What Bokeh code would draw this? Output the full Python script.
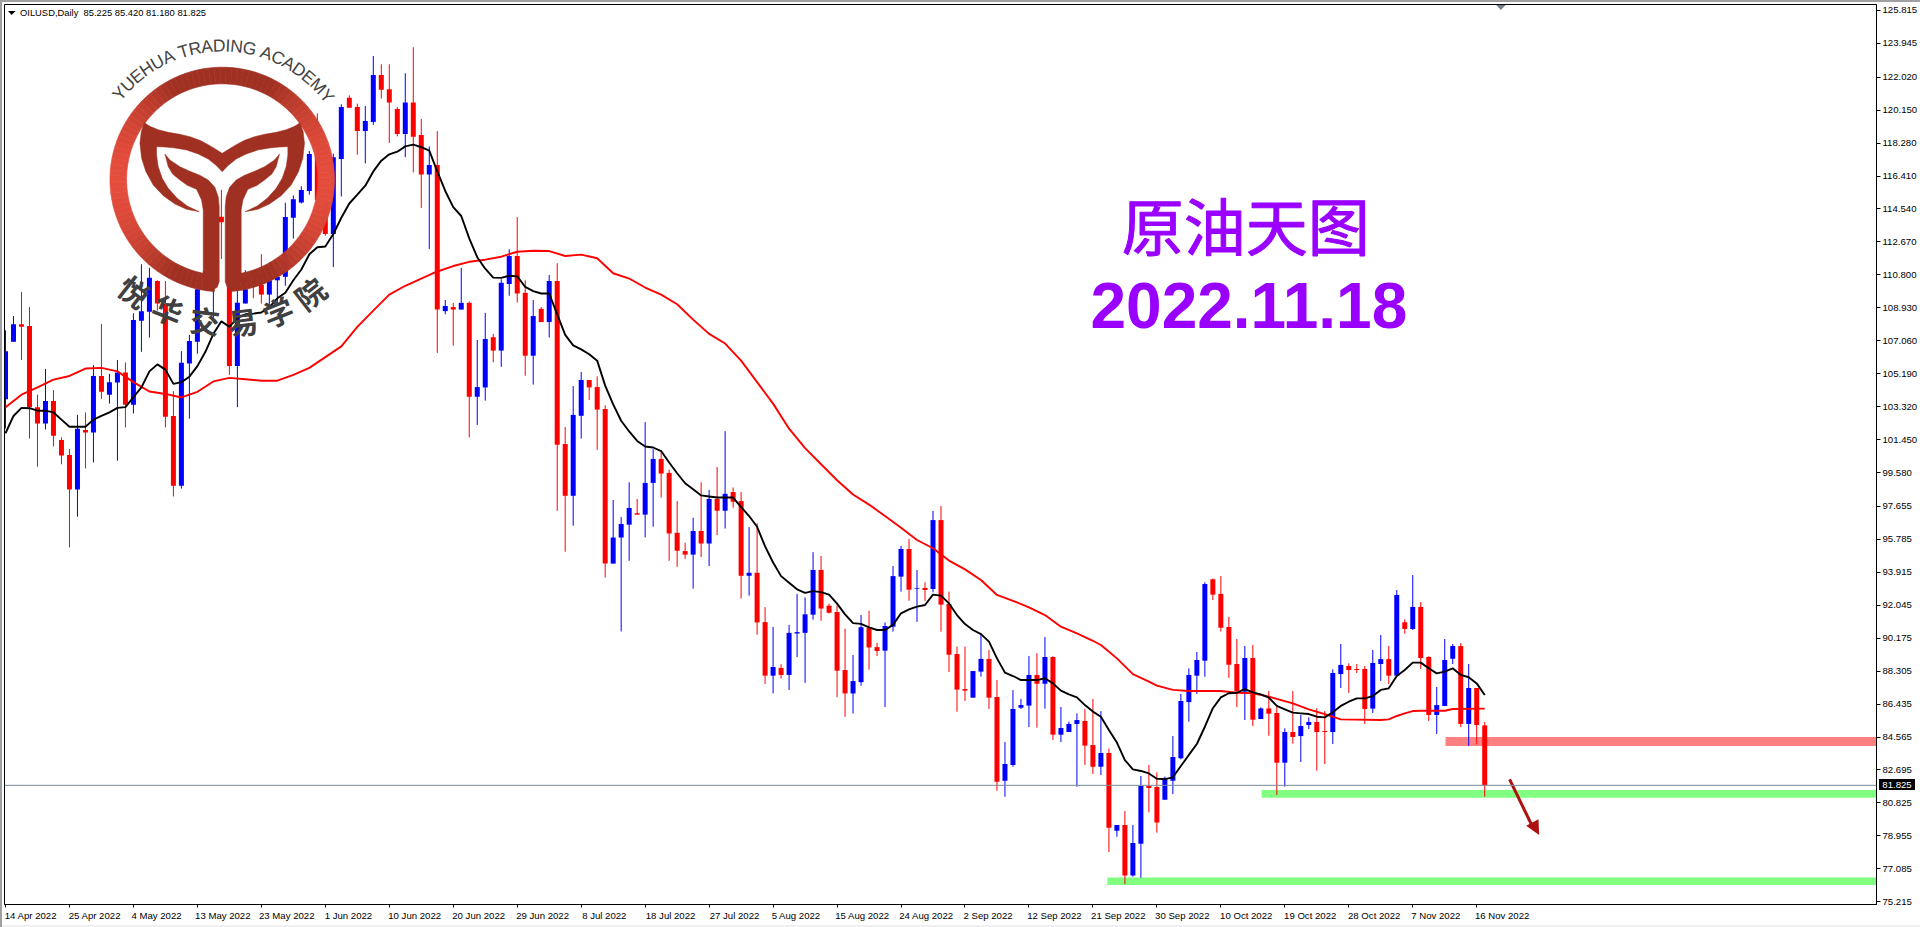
import math
from bokeh.plotting import figure
from bokeh.embed import file_html
from bokeh.resources import INLINE
from bokeh.core.properties import value
from bokeh.layouts import column
from bokeh.models import Range1d, FixedTicker, LinearAxis, Span, Div

# ---------- chart data ----------
opens = [103.74,107.00,108.00,107.89,103.29,102.36,103.64,101.43,100.58,98.61,
 102.00,101.85,105.06,104.00,104.69,105.26,103.43,108.20,108.70,110.45,
 109.17,102.79,98.83,105.77,107.00,109.98,110.59,114.10,113.79,105.62,
 109.17,110.89,110.24,109.68,110.49,110.69,114.04,114.91,115.56,117.68,
 115.05,113.12,117.38,120.85,120.32,118.96,119.47,122.14,121.33,120.22,
 118.80,120.58,118.74,116.49,117.04,108.74,108.97,108.83,109.21,103.88,
 104.41,107.26,106.50,110.28,111.87,109.78,106.21,108.87,108.12,110.45,
 101.20,98.26,102.80,104.83,104.43,103.19,94.41,95.89,96.62,97.27,
 97.19,98.99,100.35,99.56,96.16,95.12,94.92,96.26,95.55,98.08,
 97.41,98.47,97.96,93.72,93.89,91.09,88.05,88.49,88.09,90.44,
 90.48,91.51,94.05,92.02,91.66,88.37,87.04,87.68,90.76,89.67,
 89.47,90.83,93.67,95.24,92.99,93.03,92.97,96.88,92.12,89.28,
 87.29,86.80,88.28,89.00,86.84,82.09,82.98,86.23,86.35,88.09,
 87.59,89.11,84.70,84.85,85.31,85.48,84.11,82.88,83.66,79.25,
 79.57,76.70,78.51,81.79,81.73,81.01,82.09,83.36,86.55,88.05,
 88.90,93.52,92.69,90.81,88.71,87.14,89.05,85.59,86.19,85.93,
 83.11,84.85,84.62,85.25,85.42,84.91,84.85,88.14,88.60,88.43,
 88.43,86.18,88.71,88.99,88.05,91.08,90.70,91.95,89.11,85.82,
 86.33,89.01,89.73,85.31,87.35,85.225]
closes = [106.47,108.00,107.85,103.29,102.36,103.64,101.67,100.54,98.61,102.06,
 101.85,105.06,104.16,104.71,105.26,103.43,108.24,108.74,110.63,109.17,
 102.74,98.83,105.81,107.04,109.98,111.00,113.43,113.79,105.62,109.21,
 109.98,110.49,109.68,110.49,110.69,114.08,115.09,115.62,117.66,115.05,
 113.12,117.48,120.32,120.28,118.96,119.53,122.14,121.31,120.58,118.80,
 120.58,118.64,116.49,117.04,108.83,109.03,108.83,109.21,103.88,104.43,
 107.16,106.50,110.35,111.87,109.74,106.21,108.46,108.12,110.45,101.16,
 98.26,102.85,104.83,104.41,103.15,94.41,95.89,96.66,97.57,97.19,
 98.99,100.35,99.52,96.12,95.14,94.92,96.26,95.55,98.08,97.41,
 98.37,97.92,93.72,93.89,91.07,88.05,88.54,88.09,90.48,90.52,
 91.53,94.05,91.86,91.62,88.33,87.04,87.74,90.80,89.65,89.45,
 90.87,93.70,95.24,92.93,93.03,92.91,96.88,92.08,89.24,87.26,
 87.20,88.31,89.00,86.80,82.03,83.03,86.16,86.38,88.09,87.59,
 89.11,84.70,85.08,85.31,85.53,84.08,82.88,83.66,79.42,79.57,
 76.70,78.55,81.79,81.67,79.71,82.22,83.43,86.61,88.09,88.94,
 93.25,92.65,90.77,88.67,87.18,89.05,85.55,86.19,85.89,83.11,
 84.85,84.57,85.19,85.42,84.85,84.85,88.20,88.66,88.37,88.37,
 86.16,88.77,88.99,88.05,92.63,90.70,91.95,89.05,85.82,86.38,
 88.94,89.73,85.31,87.35,85.25,81.825]
highs = [107.65,108.46,109.82,108.97,104.00,105.46,104.26,101.57,100.92,102.85,
 102.99,105.68,108.01,105.18,105.97,105.83,108.62,111.40,111.20,110.49,
 110.45,104.20,106.47,107.39,110.18,111.40,113.83,115.62,114.24,109.98,
 111.06,111.06,111.97,111.50,111.40,114.89,115.31,115.82,117.83,119.97,
 115.45,117.68,120.48,120.99,120.52,120.38,123.22,122.75,122.75,120.32,
 122.24,123.72,119.65,118.09,118.96,109.37,109.21,111.20,109.29,107.10,
 108.64,107.45,110.55,112.25,114.08,110.49,109.37,108.97,110.79,111.46,
 102.16,104.49,105.28,104.83,105.04,103.39,98.02,97.05,99.03,98.08,
 102.44,100.90,100.72,99.74,97.96,95.59,97.01,99.03,98.59,99.89,
 101.93,98.73,98.47,96.48,96.70,91.94,90.81,88.70,90.93,92.69,
 92.49,95.06,94.84,92.14,92.04,90.72,89.22,91.49,91.74,89.91,
 91.07,94.27,95.41,95.81,94.05,93.35,97.40,97.68,92.82,89.70,
 89.70,88.31,90.45,89.51,87.80,84.28,87.23,86.73,89.16,89.32,
 90.24,89.16,86.27,85.44,85.91,86.16,86.73,86.04,83.92,79.57,
 80.37,79.57,82.35,82.98,82.56,82.32,84.62,87.01,88.46,89.39,
 93.35,93.57,93.70,91.38,90.13,89.73,89.79,86.25,87.18,86.29,
 85.06,87.18,85.82,85.68,86.20,86.04,88.41,89.85,88.75,88.71,
 88.60,89.51,90.36,89.73,92.91,91.25,93.76,92.23,89.16,87.41,
 90.13,89.85,89.90,88.71,87.35,85.42]
lows = [102.08,107.00,105.97,101.51,99.91,102.02,101.06,100.05,95.33,97.07,
 99.81,100.15,103.76,103.49,100.25,102.14,102.93,106.43,107.24,108.77,
 102.14,98.22,98.67,102.64,106.33,109.98,108.16,111.70,105.12,103.29,
 109.17,109.47,109.17,108.97,109.17,110.18,112.86,114.85,115.35,114.24,
 113.02,111.24,115.25,120.28,117.62,117.12,119.31,120.81,118.29,118.66,
 117.48,116.61,114.60,112.27,106.37,108.56,106.78,108.83,101.57,102.28,
 103.66,105.83,105.58,109.62,109.23,105.08,104.57,108.12,107.24,97.41,
 95.08,96.56,101.51,103.70,100.86,93.62,94.41,90.56,94.57,97.19,
 95.89,96.50,98.16,94.57,94.23,94.68,92.99,94.78,94.27,96.03,
 96.40,97.58,92.43,92.59,90.38,87.58,87.04,87.89,87.24,89.10,
 87.64,91.23,91.17,91.58,86.83,85.72,85.90,87.48,88.39,89.16,
 86.27,90.55,92.82,92.30,91.10,92.29,92.78,90.55,88.26,86.00,
 86.61,86.80,88.00,86.16,81.52,81.18,82.88,86.16,85.13,85.10,
 86.18,84.40,84.28,84.85,81.75,82.98,82.47,82.41,78.04,78.91,
 76.22,76.64,76.58,80.29,79.14,81.01,81.33,83.30,85.44,87.01,
 87.99,92.34,90.55,87.92,86.27,85.53,85.19,85.59,84.64,81.28,
 81.75,84.19,83.15,85.02,82.66,83.03,84.17,87.35,87.07,88.20,
 85.31,85.93,87.75,87.58,88.03,90.43,90.64,88.43,85.48,84.74,
 86.33,88.71,85.13,84.06,84.15,81.18]
black_ma = [101.81,102.79,103.25,103.23,103.09,103.09,102.99,102.58,102.18,102.18,
 102.18,102.58,102.79,102.99,103.25,103.29,103.86,104.41,105.32,105.72,
 105.42,104.61,104.71,105.02,105.62,106.43,107.45,108.16,107.85,108.36,
 108.56,108.60,108.66,108.97,109.47,109.78,110.49,111.10,111.97,112.37,
 112.41,113.12,114.04,114.85,115.35,115.86,116.67,117.28,117.64,117.79,
 118.09,118.19,118.05,117.85,116.67,115.56,114.64,114.14,112.87,111.80,
 111.15,110.64,110.63,110.75,110.71,110.12,109.88,109.74,109.74,108.56,
 107.39,106.80,106.57,106.29,105.93,104.51,103.45,102.52,101.91,101.37,
 101.06,101.00,100.80,100.15,99.54,98.97,98.63,98.28,98.22,98.16,
 98.16,98.16,97.62,97.11,96.50,95.39,94.47,93.70,93.32,92.95,
 92.75,92.85,92.79,92.65,92.14,91.53,91.03,90.99,90.79,90.64,
 90.64,90.93,91.59,91.81,91.97,92.06,92.65,92.59,92.15,91.49,
 90.98,90.64,90.41,89.98,89.03,88.22,88.03,87.80,87.80,87.80,
 87.90,87.61,87.20,86.99,86.82,86.38,86.01,85.72,84.96,84.25,
 83.26,82.73,82.64,82.50,82.20,82.18,82.28,82.92,83.55,84.17,
 85.15,86.20,86.82,87.05,87.08,87.29,87.10,86.99,86.80,86.33,
 86.14,85.95,85.91,85.87,85.72,85.68,85.97,86.33,86.57,86.76,
 86.76,86.89,87.24,87.33,88.03,88.37,88.79,88.79,88.47,88.18,
 88.28,88.47,88.09,87.96,87.61,86.95]
red_ma_bar = [0,2,4,6,8,10,12,14,16,18,20,22,24,26,28,30,32,34,36,38,40,42,44,46,48,50,52,54,56,58,60,62,
 64,66,68,70,72,74,76,78,80,82,84,86,88,90,92,94,96,98,100,102,104,106,108,110,112,114,116,118,120,122,
 124,126,128,130,132,134,136,137,139,141,143,144,146,148,152,154,156,158,161,163,165,167,172,173,174,175,
 176,177,180,181,185]
red_ma = [103.29,104.00,104.41,104.85,105.06,105.48,105.52,105.32,104.71,104.18,104.04,103.84,104.16,104.75,
 104.95,104.87,104.79,104.79,105.12,105.52,106.13,106.74,107.85,108.77,109.68,110.18,110.59,110.99,111.30,
 111.54,111.66,111.83,112.11,112.17,112.15,111.87,111.95,111.74,110.89,110.59,110.08,109.68,109.13,108.26,
 107.45,106.90,105.93,104.71,103.49,102.07,100.96,100.05,99.14,98.33,97.76,97.11,96.45,95.75,95.28,94.58,
 94.08,93.48,92.63,92.30,91.93,91.49,90.83,90.45,90.03,89.79,89.03,88.14,87.71,87.48,87.24,87.18,87.18,
 87.08,87.05,86.86,86.48,86.14,85.87,85.57,85.53,85.57,85.76,85.91,86.04,86.06,86.06,86.16,86.18]
price_ticks = [125.815,123.945,122.020,120.150,118.280,116.410,114.540,112.670,110.800,108.930,107.060,
 105.190,103.320,101.450,99.580,97.655,95.785,93.915,92.045,90.175,88.305,86.435,84.565,82.695,80.825,
 78.955,77.085,75.215]
date_labels = ["14 Apr 2022","25 Apr 2022","4 May 2022","13 May 2022","23 May 2022","1 Jun 2022","10 Jun 2022",
 "20 Jun 2022","29 Jun 2022","8 Jul 2022","18 Jul 2022","27 Jul 2022","5 Aug 2022","15 Aug 2022","24 Aug 2022",
 "2 Sep 2022","12 Sep 2022","21 Sep 2022","30 Sep 2022","10 Oct 2022","19 Oct 2022","28 Oct 2022","7 Nov 2022",
 "16 Nov 2022"]
last_price = 81.825
header_text = "OILUSD,Daily\u00a0 85.225 85.420 81.180 81.825"
title_text = "原油天图"
date_text = "2022.11.18"
zone_red = (180.1, 84.57, 84.06)
zone_green_a = (157.1, 81.56, 81.12)
zone_green_b = (137.8, 76.60, 76.17)

# ---------- pixel helpers for the decoration ----------
def px(x): return (x - 5.5) / 8.0
def py(y): return 126.4 - 0.05676 * y

FL, FR, FT, FB = 4, 1877, 4, 904
W, H = 1920, 927
p = figure(width=W, height=H, output_backend="svg", toolbar_location=None,
           x_range=Range1d(px(FL + 0.5), px(FR + 0.5)), y_range=Range1d(py(FB + 0.5), py(FT + 0.5)),
           min_border_left=FL, min_border_right=W - FR, min_border_top=FT, min_border_bottom=H - FB,
           x_axis_location=None, y_axis_location=None, background_fill_color="white",
           border_fill_color=None)
# window chrome sits behind the transparent border of the figure
p.styles = {"position": "absolute", "left": "0px", "top": "0px",
            "background": ("linear-gradient(to right,#A0A0A0 0,#A0A0A0 2px,rgba(255,255,255,0) 2px),"
                           "linear-gradient(to bottom,#A0A0A0 0,#A0A0A0 2px,#FFFFFF 2px,#FFFFFF 925px,#F0F0F0 925px)")}
p.grid.visible = False
p.outline_line_color = "black"
p.outline_line_width = 1

TF = "Liberation Sans"
# axes
yax = LinearAxis(ticker=FixedTicker(ticks=price_ticks),
                 major_label_overrides={t: f"{t:.3f}" for t in price_ticks})
yax.major_tick_in = 0; yax.major_tick_out = 4; yax.minor_tick_line_color = None
yax.major_label_standoff = 2
yax.major_label_text_font = TF; yax.major_label_text_font_size = "9.6px"
yax.major_label_text_color = "black"; yax.axis_line_color = "black"; yax.major_tick_line_color = "black"
p.add_layout(yax, "right")

tick_bars = [i * 8 for i in range(len(date_labels))]
def lab_w(s): return len(s) * 4.62
centers = [b + (lab_w(s) / 2) / 8.0 for b, s in zip(tick_bars, date_labels)]
xax = LinearAxis(ticker=FixedTicker(ticks=centers, minor_ticks=tick_bars),
                 major_label_overrides={c: s for c, s in zip(centers, date_labels)})
xax.major_tick_line_color = None; xax.minor_tick_line_color = "black"
xax.minor_tick_in = 0; xax.minor_tick_out = 3
xax.major_label_standoff = -1
xax.major_label_text_font = TF; xax.major_label_text_font_size = "9.6px"
xax.major_label_text_color = "black"; xax.axis_line_color = "black"
p.add_layout(xax, "below")

# zones
for (start, top, bottom), col in ((zone_red, "#FF8080"), (zone_green_a, "#80FF80"), (zone_green_b, "#80FF80")):
    p.quad(left=[start], right=[px(FR + 0.5)], top=[top], bottom=[bottom], fill_color=col, line_color=None)

# last price line
p.add_layout(Span(location=last_price, dimension="width", line_color="#778899", line_width=1))

# candles
bars = list(range(len(opens)))
cols = ["#0000FF" if c >= o else "#FF0000" for o, c in zip(opens, closes)]
p.segment(bars, highs, bars, lows, line_color=cols, line_width=1)
p.vbar(x=bars, width=0.625, top=[max(o, c) for o, c in zip(opens, closes)],
       bottom=[min(o, c) for o, c in zip(opens, closes)], fill_color=cols, line_color=None)

# moving averages
p.line(red_ma_bar, red_ma, line_color="#FF0000", line_width=1.9)
p.line(bars, black_ma, line_color="#000000", line_width=1.9)

# header
p.patch([px(8), px(15.5), px(11.7)], [py(11), py(11), py(15)], fill_color="black", line_color=None)
p.text([px(20)], [py(12.5)], text=[header_text], text_font=value(TF), text_font_size="9.4px",
       text_color="black", text_baseline="middle", text_align="left")

# small chart-shift marker
p.patch([px(1497), px(1506.5), px(1501.7)], [py(5), py(5), py(10)], fill_color="#708090", line_color=None)

# logo (geometry in logo pixels)
LX0, LY0 = 100, 30
CX, CY, RO, RI = 367.0, 448.5, 337.0, 287.0
def lx(z): return px(LX0 + z / 3.0)
def ly(z): return py(LY0 + z / 3.0)
def mix(t):
    a, b = (0xA0, 0x30, 0x22), (0xE4, 0x4C, 0x3C)
    return "#%02X%02X%02X" % tuple(int(a[k] + (b[k] - a[k]) * t) for k in range(3))
xs, ys, colors = [], [], []
a = 4.0
while a < 356.0:
    b = min(a + 3.0, 356.0)
    ra, rb = math.radians(a), math.radians(b)
    pts = [(CX + RO * math.sin(ra), CY + RO * math.cos(ra)), (CX + RO * math.sin(rb), CY + RO * math.cos(rb)),
           (CX + RI * math.sin(rb), CY + RI * math.cos(rb)), (CX + RI * math.sin(ra), CY + RI * math.cos(ra))]
    xs.append([lx(q[0]) for q in pts]); ys.append([ly(q[1]) for q in pts])
    t = abs(math.sin((ra + rb) / 2)) * (RO + RI) / 2 / RO
    colors.append(mix(max(0.0, (t - 0.42) / 0.5) if t < 0.92 else 1.0))
    a = b
p.patches(xs, ys, fill_color=colors, line_color=colors, line_width=0.6)

def mir(pt): return (2 * CX - pt[0], pt[1])
top_edge = [(133,278),(150,289),(175,299),(205,307),(240,313),(270,320),(300,331),(325,344),(345,356),(367,370)]
under = [(367,425),(350,407),(325,387),(295,372),(260,360),(225,354),(195,351),(170,350)]
inner = [(170,375),(175,410),(187,445),(205,475),(232,505),(262,528),(298,545)]
outer = [(260,538),(225,522),(190,497),(160,465),(138,425),(125,385),(120,340),(124,305)]
band = (top_edge + [mir(q) for q in reversed(top_edge)][1:] + [mir(q) for q in reversed(outer)]
        + [mir(q) for q in reversed(inner)] + [mir(q) for q in reversed(under)][:-1] + under + inner + outer)
stem = [(195,372),(210,390),(240,410),(270,424),(300,436),(325,450),(345,472),(355,500),(358,530),(358,755),
        (352,772),(338,780),(320,782),(310,735),(310,540),(305,510),(290,478),(262,466),(240,450),(218,432),(205,410)]
LOGO = "#A03022"
p.patch([lx(q[0]) for q in band], [ly(q[1]) for q in band], fill_color=LOGO, line_color=LOGO, line_width=0.5)
p.patch([lx(q[0]) for q in stem], [ly(q[1]) for q in stem], fill_color=LOGO, line_color=LOGO, line_width=0.5)
sm = [mir(q) for q in stem]
p.patch([lx(q[0]) for q in sm], [ly(q[1]) for q in sm], fill_color=LOGO, line_color=LOGO, line_width=0.5)

# logo arc text
arc_text = "YUEHUA TRADING ACADEMY"
wid = {"Y":.667,"U":.722,"E":.667,"H":.722,"A":.667," ":.278,"T":.611,"R":.722,"D":.722,"I":.278,"N":.722,"G":.778,"C":.722,"M":.833}
tot = sum(wid[c] for c in arc_text)
ACX, ACY, AR = 222.33, 179.5, 134.0
th0, th1 = -52.5, 54.0
run = 0.0
ax_, ay_, aa_, at_ = [], [], [], []
for c in arc_text:
    w = wid[c]
    th = math.radians(th0 + (th1 - th0) * (run + w / 2) / tot)
    run += w
    ax_.append(px(ACX + AR * math.sin(th))); ay_.append(py(ACY - AR * math.cos(th))); aa_.append(-th); at_.append(c)
p.text(ax_, ay_, text=at_, angle=aa_, text_font=value(TF), text_font_size="17.5px", text_color="#444444",
       text_align="center", text_baseline="middle")

# logo Chinese name
cn_chars = ["悦", "华", "交", "易", "学", "院"]
cn_x = [135, 168, 205, 243, 278, 310]
cn_y = [291, 309, 320, 321, 311, 293]
cn_a = [-38, -22, -7, 7, 22, 38]
p.text([px(v) for v in cn_x], [py(v) for v in cn_y], text=cn_chars, angle=[math.radians(v) for v in cn_a],
       text_font=value("Noto Sans CJK SC"), text_font_style="bold", text_font_size="30px", text_color="#404040",
       text_align="center", text_baseline="middle")

# big titles
p.text([px(1246.5)], [py(223.5)], text=[title_text], text_font=value("Noto Sans CJK SC"),
       text_font_size="62px", text_color="#9900FF", text_outline_color="#9900FF",
       text_align="center", text_baseline="middle")
p.text([px(1249.5)], [py(305.5)], text=[date_text], text_font=value(TF), text_font_style="bold",
       text_font_size="64px", text_color="#9900FF", text_align="center", text_baseline="middle")

# down arrow
p.line([px(1510.4), px(1533)], [py(779.3), py(826)], line_color="#AE1010", line_width=3)
p.patch([px(1527), px(1539.3), px(1540)], [py(825.7), py(819.3), py(835)], fill_color="#AE1010", line_color=None)

# last-price tag
tag = Div(text=f"{last_price:.3f}", width=36, height=11,
          styles={"position": "absolute", "left": "1879px", "top": "779px", "background": "#000000",
                  "color": "#FFFFFF", "font-family": "'Liberation Sans'", "font-size": "9.6px",
                  "line-height": "11px", "text-align": "center", "margin": "0", "padding": "0", "overflow": "hidden"})
root = column(p, tag, width=W, height=H, styles={"position": "absolute", "left": "0px", "top": "0px"})

open("out.html", "w").write(file_html(root, INLINE))
